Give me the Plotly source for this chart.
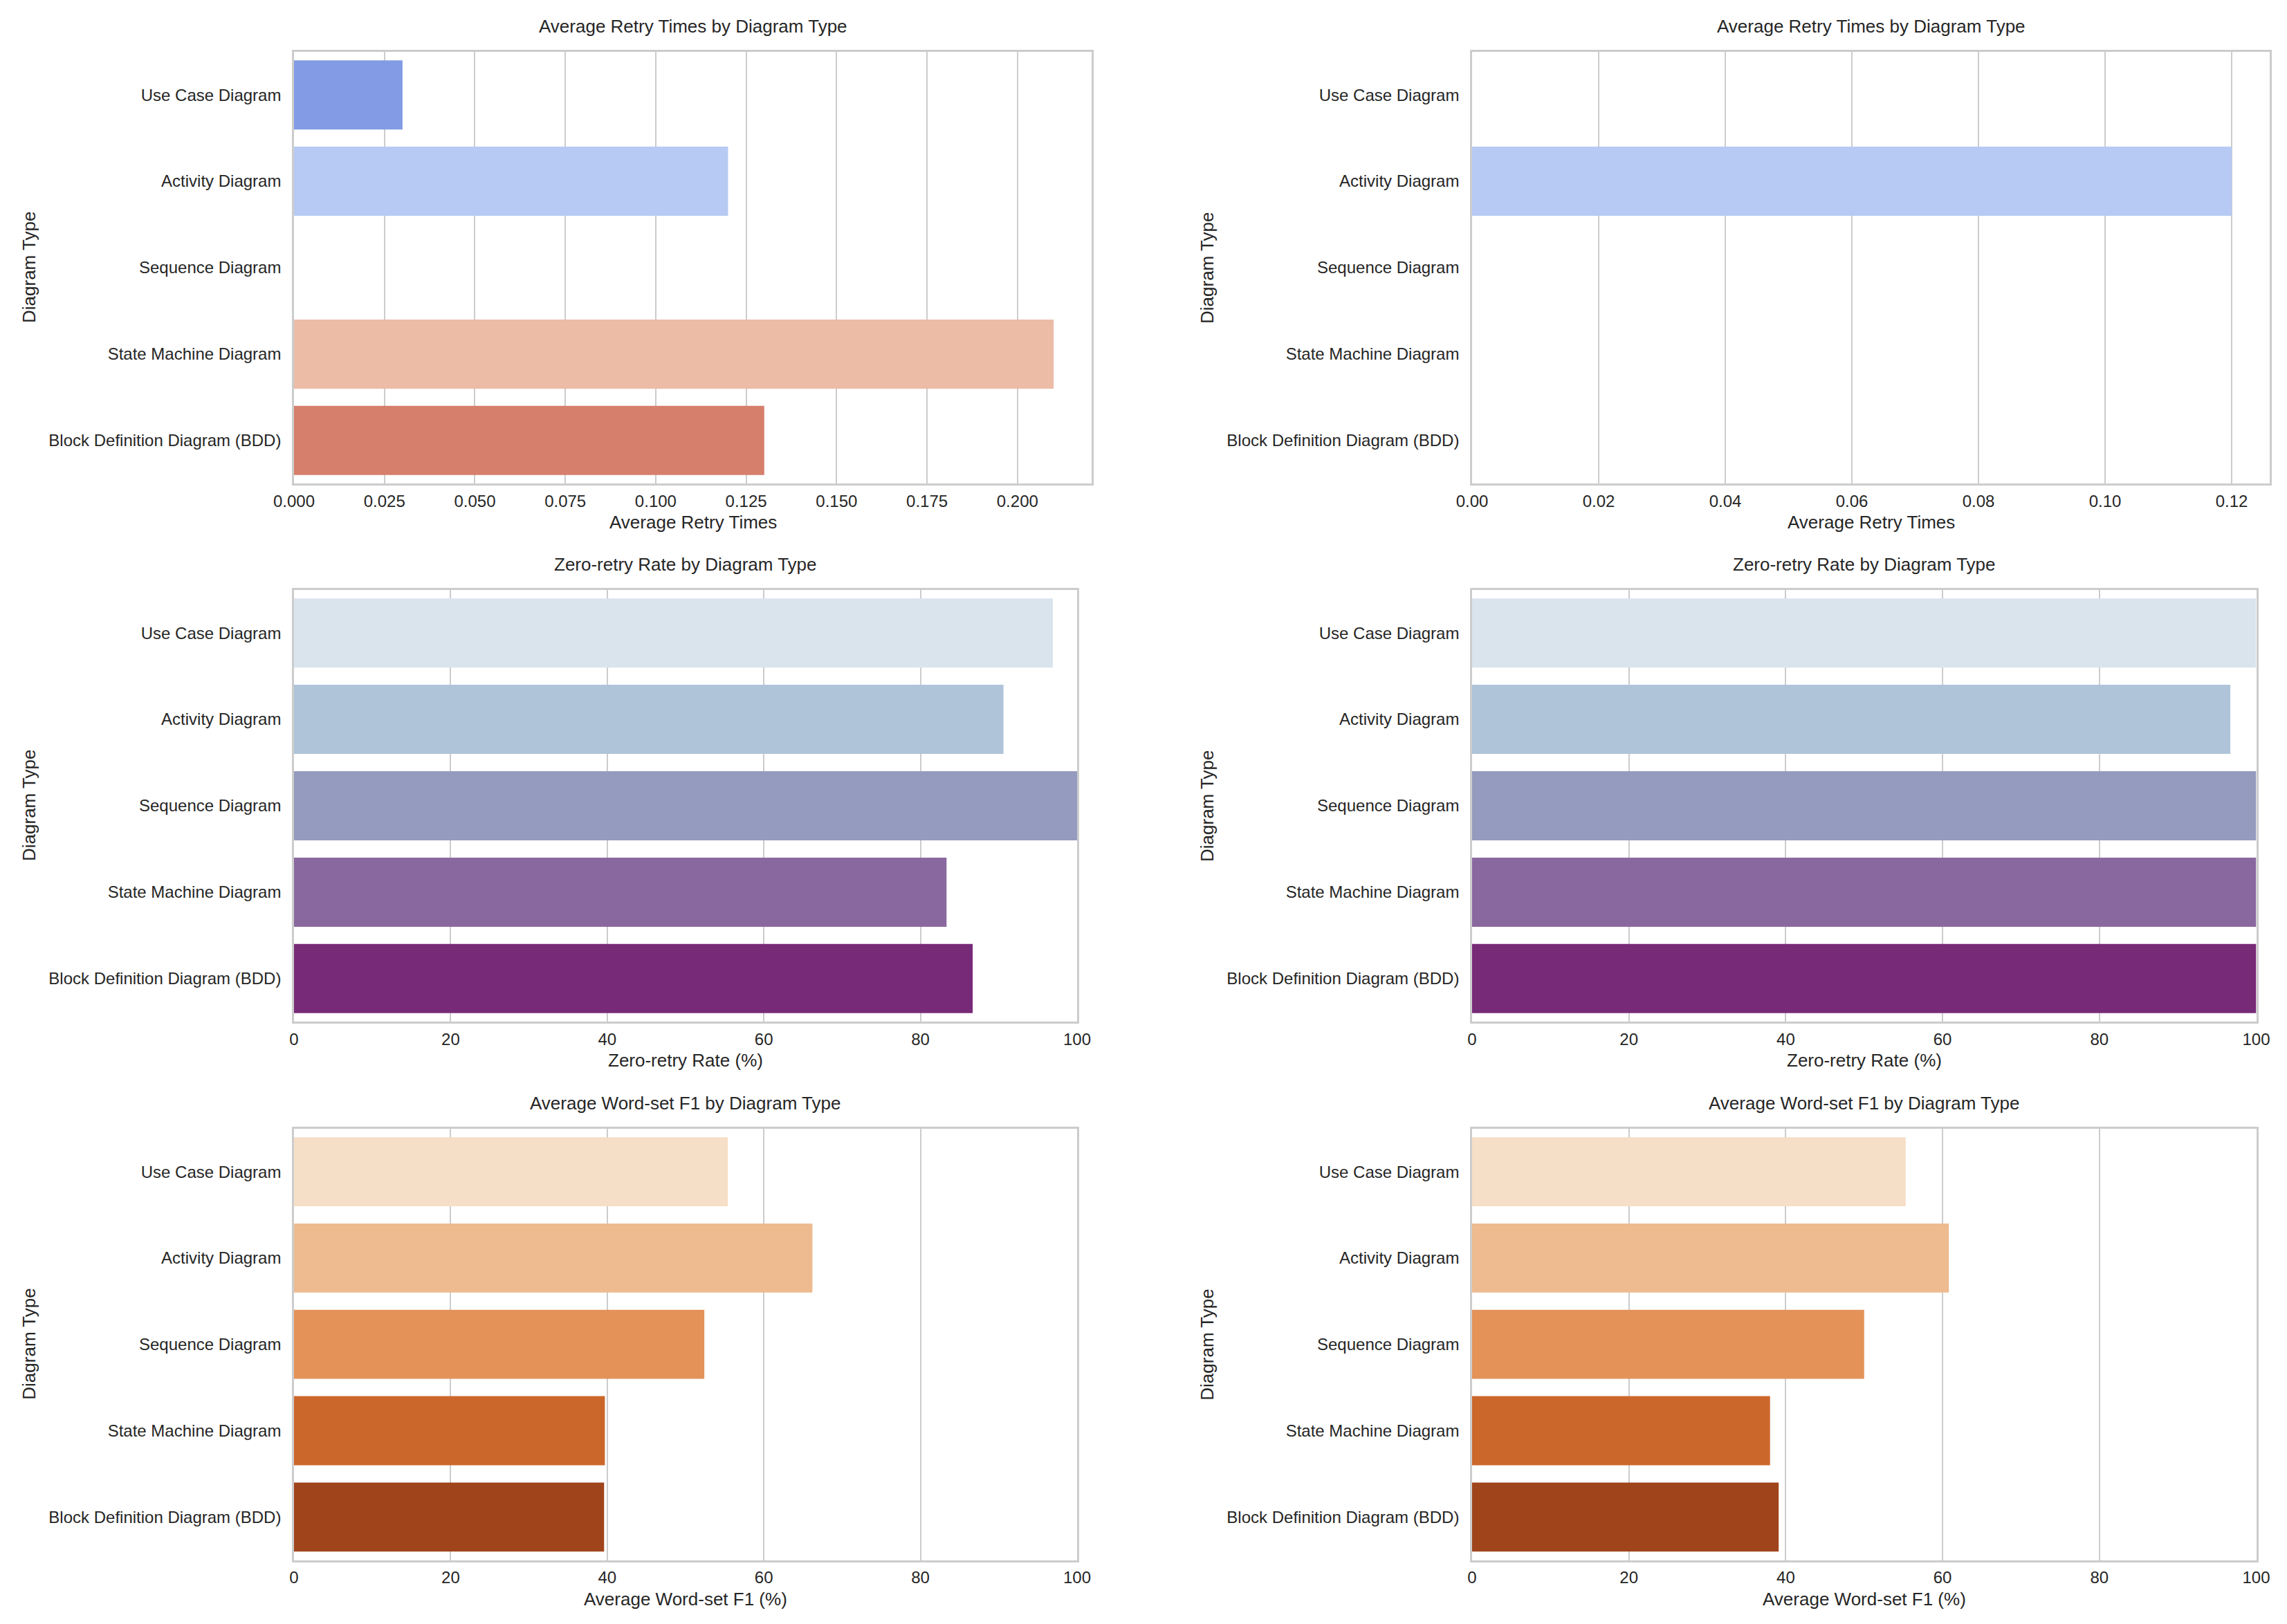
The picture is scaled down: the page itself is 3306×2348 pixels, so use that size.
import plotly.graph_objects as go
from plotly.subplots import make_subplots

diagram_types = [
    "Use Case Diagram",
    "Activity Diagram",
    "Sequence Diagram",
    "State Machine Diagram",
    "Block Definition Diagram (BDD)",
]

# left column / right column values
retry_left = [0.03, 0.12, 0.0, 0.21, 0.13]
retry_right = [0.0, 0.12, 0.0, 0.0, 0.0]
zero_retry_left = [96.9, 90.6, 100.0, 83.33, 86.67]
zero_retry_right = [100.0, 96.7, 100.0, 100.0, 100.0]
f1_left = [55.4, 66.2, 52.4, 39.7, 39.6]
f1_right = [55.3, 60.8, 50.0, 38.0, 39.1]

coolwarm = ["#839be4", "#b6caf3", "#dcdcdc", "#ecbca7", "#d67f6c"]
bupu = ["#dae4ed", "#afc4d9", "#959bbe", "#89689f", "#772a78"]
oranges = ["#f6dfc7", "#edbb8f", "#e49258", "#cc672b", "#a0441b"]

W, H = 3306, 2348
FONT = "Liberation Sans, Arial, sans-serif"
TXT = "#262626"
GRID = "#cccccc"

panels = [
    # row, col, values, colors, title, xlabel, range, dtick, format
    (1, 1, retry_left, coolwarm, "Average Retry Times by Diagram Type", "Average Retry Times", [0, 0.2205], 0.025, ".3f"),
    (1, 2, retry_right, coolwarm, "Average Retry Times by Diagram Type", "Average Retry Times", [0, 0.126], 0.02, ".2f"),
    (2, 1, zero_retry_left, bupu, "Zero-retry Rate by Diagram Type", "Zero-retry Rate (%)", [0, 100], 20, "d"),
    (2, 2, zero_retry_right, bupu, "Zero-retry Rate by Diagram Type", "Zero-retry Rate (%)", [0, 100], 20, "d"),
    (3, 1, f1_left, oranges, "Average Word-set F1 by Diagram Type", "Average Word-set F1 (%)", [0, 100], 20, "d"),
    (3, 2, f1_right, oranges, "Average Word-set F1 by Diagram Type", "Average Word-set F1 (%)", [0, 100], 20, "d"),
]

# axes boxes in pixels (left, right, top, bottom)
row_y = {1: (74.7, 699.3), 2: (852.7, 1477.3), 3: (1631.7, 2255.7)}
col_x = {
    (1, 1): (425, 1578), (1, 2): (2128, 3281),
    (2, 1): (425, 1557), (2, 2): (2128, 3261.5),
    (3, 1): (425, 1557), (3, 2): (2128, 3261.5),
}
ylabel_x = {1: 42, 2: 1745}

fig = make_subplots(rows=3, cols=2)

annotations = []
for i, (r, c, vals, cols, title, xlabel, rng, dtick, fmt) in enumerate(panels):
    fig.add_trace(
        go.Bar(x=vals, y=diagram_types, orientation="h", marker=dict(color=cols, line=dict(width=0)),
               showlegend=False),
        row=r, col=c,
    )
    x0, x1 = col_x[(r, c)]
    top, bot = row_y[r]
    xd = [x0 / W, x1 / W]
    yd = [1 - bot / H, 1 - top / H]
    fig.update_xaxes(
        domain=xd, range=rng, dtick=dtick, tick0=0, tickformat=fmt,
        showgrid=True, gridcolor=GRID, gridwidth=2, zeroline=False,
        showline=True, mirror=True, linecolor=GRID, linewidth=2.5,
        ticks="", ticklabelstandoff=2, automargin=False,
        tickfont=dict(family=FONT, size=24, color=TXT),
        row=r, col=c,
    )
    fig.update_yaxes(
        domain=yd, categoryorder="array", categoryarray=diagram_types,
        range=[4.5, -0.5], showgrid=False, zeroline=False,
        showline=True, mirror=True, linecolor=GRID, linewidth=2.5,
        ticks="", ticklabelstandoff=11, automargin=False,
        tickfont=dict(family=FONT, size=24, color=TXT),
        row=r, col=c,
    )
    xm = (x0 + x1) / 2 / W
    annotations.append(dict(text=title, x=xm, y=1 - (top - 37) / H, xref="paper", yref="paper",
                            xanchor="center", yanchor="middle", showarrow=False,
                            font=dict(family=FONT, size=26, color=TXT)))
    annotations.append(dict(text=xlabel, x=xm, y=1 - (bot + 56) / H, xref="paper", yref="paper",
                            xanchor="center", yanchor="middle", showarrow=False,
                            font=dict(family=FONT, size=26, color=TXT)))
    annotations.append(dict(text="Diagram Type", x=ylabel_x[c] / W, y=1 - (top + bot) / 2 / H,
                            xref="paper", yref="paper", textangle=-90,
                            xanchor="center", yanchor="middle", showarrow=False,
                            font=dict(family=FONT, size=26, color=TXT)))

fig.update_layout(
    width=W, height=H,
    margin=dict(l=0, r=0, t=0, b=0),
    paper_bgcolor="white", plot_bgcolor="white",
    bargap=0.2,
    annotations=annotations,
)

fig.write_html("out.html", config={"displayModeBar": False},
               post_script="document.body.style.margin='0';")
